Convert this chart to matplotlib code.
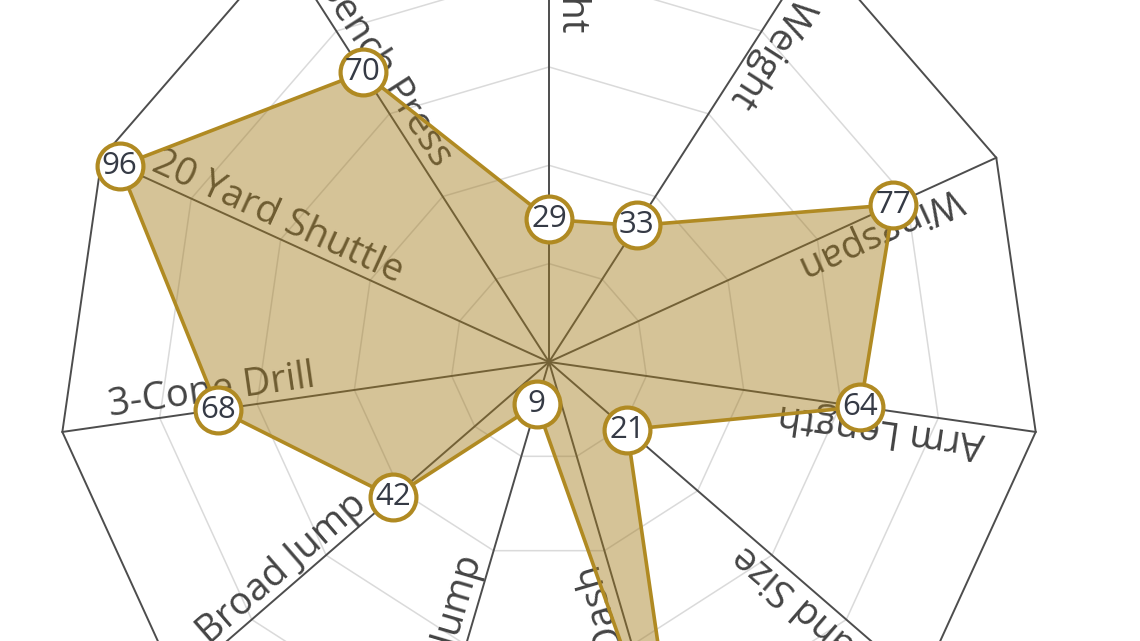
import numpy as np
import matplotlib
matplotlib.use("Agg")
import matplotlib.pyplot as plt

plt.rcParams["font.family"] = ["Open Sans", "DejaVu Sans"]

# categories, clockwise from the top
categories = [
    "Height", "Weight", "Wingspan", "Arm Length", "Hand Size",
    "40 Yard Dash", "Vertical Jump", "Broad Jump", "3-Cone Drill",
    "20 Yard Shuttle", "Bench Press",
]
values = [29, 33, 77, 64, 21, 97, 9, 42, 68, 96, 70]
ring_levels = [20, 40, 60, 80]

gold = "#b08a22"
fill_col = "#a27a1a"
text_col = "#444444"
num_col = "#353a45"

n = len(categories)
angles = np.linspace(0, 2 * np.pi, n, endpoint=False)
closed = np.append(angles, angles[0])

fig = plt.figure(figsize=(11.4, 6.41), dpi=100)
# polar axes larger than the canvas: the picture is a close crop of the radar
ax = fig.add_axes([0.0503, -0.3318, 0.8626, 1.5342], projection="polar")
ax.set_theta_offset(np.pi / 2)
ax.set_theta_direction(-1)
ax.set_ylim(0, 100)
ax.axis("off")

# grid rings
for lvl in ring_levels:
    ax.plot(closed, [lvl] * (n + 1), color="#dadada", lw=1.1, zorder=1, clip_on=False)
ax.plot(closed, [100] * (n + 1), color="#4d4d4d", lw=1.4, zorder=1, clip_on=False)

# spokes
for a in angles:
    ax.plot([a, a], [0, 100], color="#4d4d4d", lw=1.4, zorder=1, clip_on=False)

# axis labels written along the spokes, reading towards the centre
for a, name in zip(angles, categories):
    disp = 90 - np.degrees(a)
    ax.text(a, 90, name, rotation=disp - 180, rotation_mode="anchor",
            ha="left", va="bottom", fontsize=27.5, color=text_col, zorder=2,
            clip_on=False)

# data polygon
vals_closed = values + values[:1]
ax.fill(closed, vals_closed, color=fill_col, alpha=0.45, lw=0, zorder=3)
ax.plot(closed, vals_closed, color=gold, lw=2.6, zorder=4, clip_on=False)
ax.plot(angles, values, ls="none", marker="o", markersize=33,
        markerfacecolor="white", markeredgecolor=gold, markeredgewidth=3,
        zorder=5, clip_on=False)
for a, v in zip(angles, values):
    ax.text(a, v, str(v), ha="center", va="center", fontsize=22.5,
            color=num_col, zorder=6, clip_on=False)

fig.savefig("out.png", dpi=100)
